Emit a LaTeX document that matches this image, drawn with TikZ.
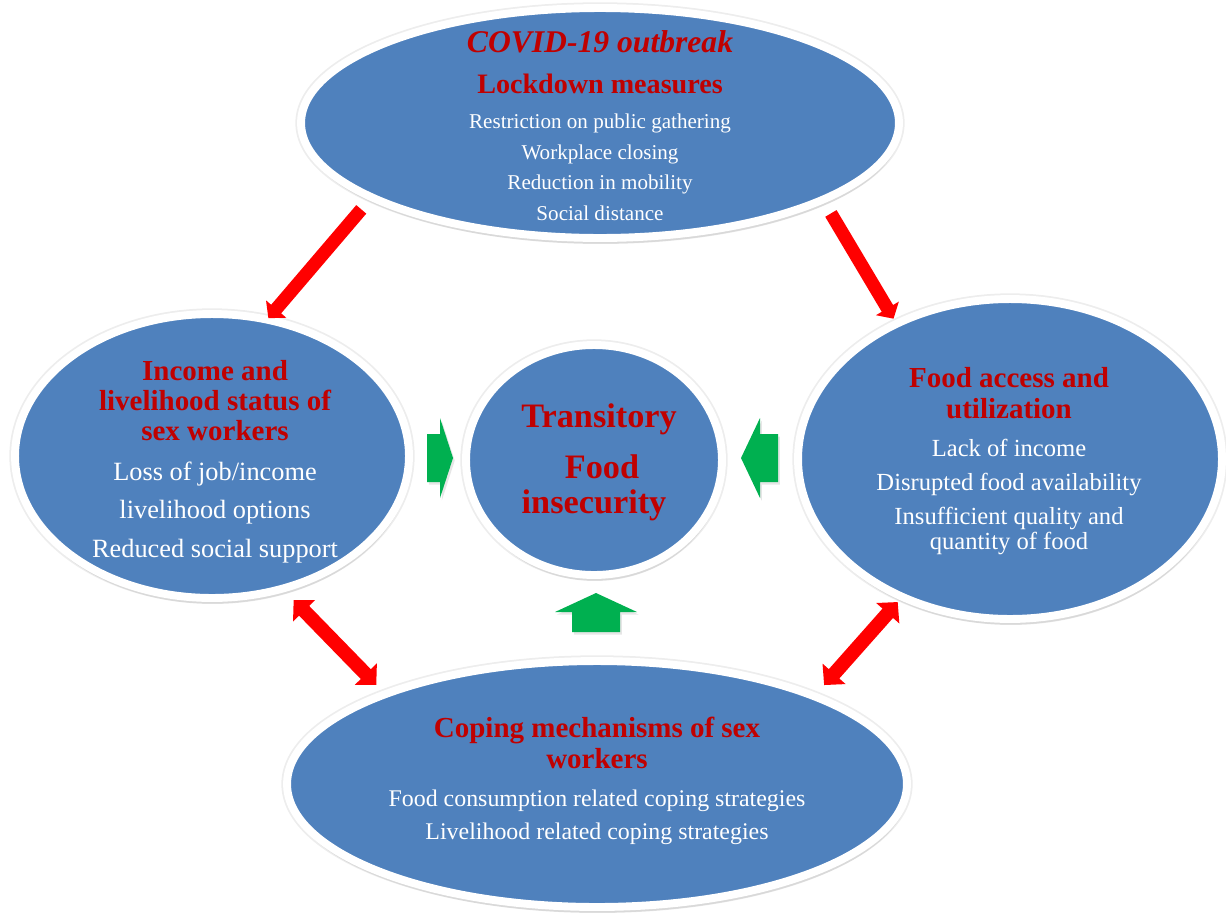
\documentclass[tikz,border=0pt]{standalone}
\usepackage{fontspec}
\setmainfont{Liberation Serif}
\usetikzlibrary{shapes.geometric,arrows.meta,shadows}
\definecolor{bubbleblue}{HTML}{4F81BD}
\definecolor{headred}{HTML}{C00000}
\definecolor{arrowred}{HTML}{FF0000}
\definecolor{arrowgreen}{HTML}{00B050}
\begin{document}
\begin{tikzpicture}[x=0.02cm, y=0.02cm,
  bubble/.style={ellipse, fill=bubbleblue, draw=white, line width=4.5pt, outer sep=0pt,
    preaction={draw=black, draw opacity=0.07, line width=6.5pt},
    drop shadow={shadow xshift=0.6pt, shadow yshift=-3.4pt, opacity=0.18}},
  head/.style={anchor=base, text=headred, font=\fontsize{#1}{#1}\selectfont\bfseries},
  item/.style={anchor=base, text=white, font=\fontsize{#1}{#1}\selectfont},
  linkarrow/.style={draw=arrowred, line width=7.5pt, -{Triangle[width=0.52cm,length=0.24cm]}},
  bothway/.style={draw=arrowred, line width=8pt,
    {Triangle[width=0.6cm,length=0.3cm]}-{Triangle[width=0.6cm,length=0.3cm]}},
  blockarrow/.style={fill=arrowgreen,
    drop shadow={shadow xshift=1pt, shadow yshift=-1.5pt, opacity=0.2}}]
\tikzstyle{every node}+=[inner sep=0pt]
\useasboundingbox (0,0) rectangle (1226,-913);
% the five bubbles
\node[bubble, minimum width=11.96cm, minimum height=4.6cm] (covid) at (600,-123) {};
\node[bubble, minimum width=7.88cm, minimum height=5.68cm] (income) at (212,-456) {};
\node[bubble, minimum width=5.12cm, minimum height=4.6cm] (insec) at (594,-460) {};
\node[bubble, minimum width=8.48cm, minimum height=6.4cm] (food) at (1010,-459) {};
\node[bubble, minimum width=12.4cm, minimum height=4.92cm] (coping) at (597,-784) {};
% lockdown
\node[head=18] (covid-t) at (600,-52) {\itshape COVID-19 outbreak};
\node[head=16] (covid-h) at (600,-93.5) {Lockdown measures};
\node[item=12] (covid-1) at (600,-128) {Restriction on public gathering};
\node[item=12] (covid-2) at (600,-159) {Workplace closing};
\node[item=12] (covid-3) at (600,-189) {Reduction in mobility};
\node[item=12] (covid-4) at (600,-220) {Social distance};
% income
\node[head=16.5] (income-h1) at (215,-380) {Income and};
\node[head=16.5] (income-h2) at (215,-410) {livelihood status of};
\node[head=16.5] (income-h3) at (215,-440) {sex workers};
\node[item=15] (income-1) at (215,-480) {Loss of job/income};
\node[item=15] (income-2) at (215,-518) {livelihood options};
\node[item=15] (income-3) at (215,-557) {Reduced social support};
% centre
\node[head=19.5] (insec-1) at (599,-427) {Transitory};
\node[head=19.5] (insec-2) at (602,-478) {Food};
\node[head=19.5] (insec-3) at (594,-513) {insecurity};
% food access
\node[head=16.5] (food-h1) at (1009,-387) {Food access and};
\node[head=16.5] (food-h2) at (1009,-418) {utilization};
\node[item=14] (food-1) at (1009,-456) {Lack of income};
\node[item=14] (food-2) at (1009,-490) {Disrupted food availability};
\node[item=14] (food-3) at (1009,-524) {Insufficient quality and};
\node[item=14] (food-4) at (1009,-549) {quantity of food};
% coping
\node[head=16.5] (coping-h1) at (597,-737) {Coping mechanisms of sex};
\node[head=16.5] (coping-h2) at (597,-768) {workers};
\node[item=13.6] (coping-1) at (597,-806) {Food consumption related coping strategies};
\node[item=13.6] (coping-2) at (597,-839) {Livelihood related coping strategies};
% red links
\draw[linkarrow, shorten <=0.32cm, shorten >=0.04cm] (covid.198) -- (income.68);
\draw[linkarrow, shorten <=0.32cm, shorten >=0.12cm] (covid.341) -- (food.130);
\draw[bothway, shorten <=0.32cm, shorten >=0.26cm] (income.298) -- (coping.157);
\draw[bothway, shorten <=0.14cm, shorten >=0.3cm] (food.232) -- (coping.22);
% green block arrows into the centre
\coordinate (push-l) at (453,-458);
\coordinate (push-r) at (741,-458);
\coordinate (push-b) at (596,-593);
\fill[blockarrow] (push-l) -- ++(-13,40) -- ++(0,-16) -- ++(-13,0) -- ++(0,-48)
  -- ++(13,0) -- ++(0,-16) -- cycle;
\fill[blockarrow] (push-r) -- ++(19,40) -- ++(0,-16) -- ++(18,0) -- ++(0,-48)
  -- ++(-18,0) -- ++(0,-16) -- cycle;
\fill[blockarrow] (push-b) -- ++(41,-19) -- ++(-17,0) -- ++(0,-20) -- ++(-48,0)
  -- ++(0,20) -- ++(-17,0) -- cycle;
\end{tikzpicture}
\end{document}
